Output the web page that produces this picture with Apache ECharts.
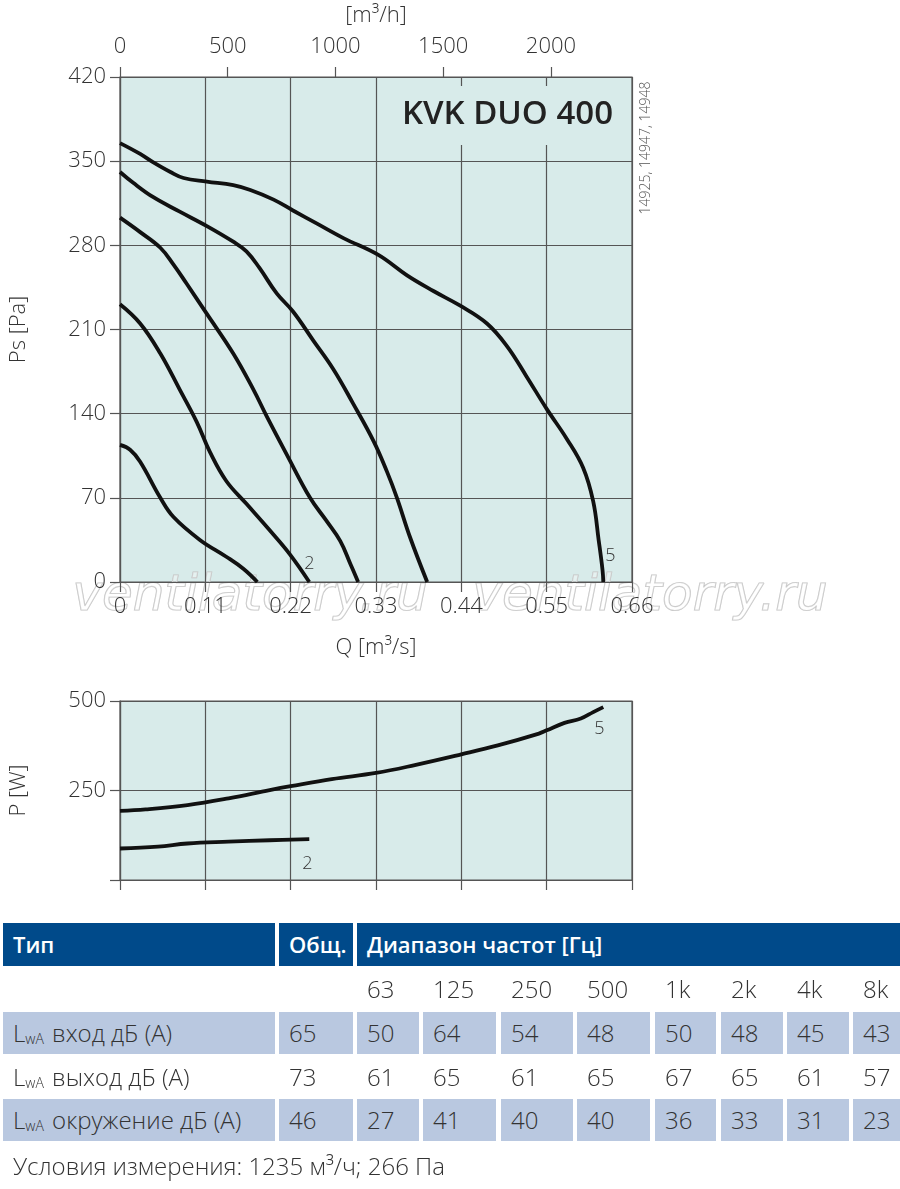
<!DOCTYPE html>
<html>
<head>
<meta charset="utf-8">
<script src="https://cdn.jsdelivr.net/npm/echarts@6/dist/echarts.min.js"></script>
<style>
  html, body { margin: 0; padding: 0; background: #fff; }
  #chart { position: absolute; left: 0; top: 0; width: 900px; height: 910px; }
  #tbl { position: absolute; left: 0; top: 0; width: 900px; height: 1189px; pointer-events: none;
         font-family: 'Open Sans', 'DejaVu Sans', sans-serif; color: #333; }
  .c { position: absolute; box-sizing: border-box; font-size: 24px; font-weight: 300; line-height: 42px; padding-left: 10px; white-space: nowrap; }
  .h { background: #004a8a; color: #fff; font-weight: 600; font-size: 22px; height: 43px; line-height: 43px; }
  .s { background: #b9c8e0; height: 42px; }
  sub { font-size: 14px; vertical-align: -2px; margin-right: 2px; }
</style>
</head>
<body>
<div id="chart"></div>
<div id="tbl"></div>
<script>
// ---------- data ----------
const psTicks = [0, 70, 140, 210, 280, 350, 420];
const qTickLabels = ['0', '0.11', '0.22', '0.33', '0.44', '0.55', '0.66'];
const m3hTicks = [0, 500, 1000, 1500, 2000];

// Ps curves [Q m3/s, Ps Pa]
const curve1 = [[0,114],[0.013,110],[0.026,100],[0.052,70],[0.069,54],[0.103,35],[0.137,21],[0.159,11],[0.177,0]];
const curve2 = [[0,231],[0.026,215],[0.052,190],[0.077,160],[0.099,133],[0.116,108],[0.137,84],[0.163,65],[0.193,43],[0.219,23],[0.244,0]];
const curve3 = [[0,303],[0.026,291],[0.052,278],[0.069,264],[0.086,248],[0.112,223],[0.146,190],[0.172,160],[0.189,138],[0.215,106],[0.245,70],[0.266,51],[0.284,34],[0.297,15],[0.307,0]];
const curve4 = [[0,341],[0.017,332],[0.043,320],[0.077,308],[0.112,296],[0.146,283],[0.163,275],[0.180,261],[0.202,240],[0.223,225],[0.249,201],[0.275,177],[0.300,149],[0.327,117],[0.344,92],[0.357,70],[0.374,37],[0.396,0]];
const curve5 = [[0,365],[0.026,356],[0.043,349],[0.065,341],[0.082,336],[0.112,333],[0.146,330],[0.168,326],[0.198,318],[0.223,309],[0.254,298],[0.288,286],[0.333,272],[0.370,255],[0.404,242],[0.438,230],[0.473,215],[0.499,196],[0.524,171],[0.550,144],[0.576,119],[0.597,95],[0.610,67],[0.617,35],[0.622,10],[0.623,0]];

// power curves [Q m3/s, P W]
const power2 = [[0,88],[0.049,93],[0.087,102],[0.140,107],[0.193,111],[0.244,114]];
const power5 = [[0,193],[0.033,197],[0.087,209],[0.140,228],[0.193,251],[0.220,262],[0.273,282],[0.330,299],[0.380,321],[0.440,351],[0.487,376],[0.540,409],[0.550,418],[0.573,439],[0.594,451],[0.610,469],[0.623,483]];
const pTicks = [0, 250, 500];

// table
const tableTitle = ['Тип', 'Общ.', 'Диапазон частот [Гц]'];
const freqBands = ['63', '125', '250', '500', '1k', '2k', '4k', '8k'];
const rowNames = ['вход дБ (А)', 'выход дБ (А)', 'окружение дБ (А)'];
const rowTotal = [65, 73, 46];
const rowInlet = [50, 64, 54, 48, 50, 48, 45, 43];
const rowOutlet = [61, 65, 61, 65, 67, 65, 61, 57];
const rowSurround = [27, 41, 40, 40, 36, 33, 31, 23];
const footnote = 'Условия измерения: 1235 м³/ч; 266 Па';

// ---------- chart ----------
const FONT = "'Open Sans', 'DejaVu Sans', sans-serif";
const TXT = '#333';
const GRIDC = '#555';
const chart = echarts.init(document.getElementById('chart'), null, { renderer: 'canvas' });

function lineSeries(data, xi, yi, label, off) {
  return {
    type: 'line', xAxisIndex: xi, yAxisIndex: yi, data: data, smooth: 0.4,
    showSymbol: false, symbol: 'none', silent: true, animation: false,
    lineStyle: { color: '#111', width: 3.8 },
    endLabel: label ? { show: true, formatter: label, color: TXT, fontSize: 18, fontFamily: FONT, fontWeight: 300, offset: off } : { show: false },
    z: 5
  };
}

const axisLineStyle = { show: true, lineStyle: { color: GRIDC, width: 1.2 } };
const tickStyle = { show: true, length: 10, inside: false, lineStyle: { color: GRIDC, width: 1.2 } };
const splitStyle = { show: true, lineStyle: { color: GRIDC, width: 1.2 } };
const lbl = { color: TXT, fontSize: 22, fontFamily: FONT, fontWeight: 300 };
const nameStyle = { color: TXT, fontSize: 22, fontFamily: FONT, fontWeight: 300 };

const option = {
  animation: false,
  grid: [
    { left: 120, top: 70, width: 512, height: 512, show: true, backgroundColor: '#d8ebea', borderColor: GRIDC, borderWidth: 1.2 },
    { left: 120, top: 701, width: 512, height: 179, show: true, backgroundColor: '#d8ebea', borderColor: GRIDC, borderWidth: 1.2 }
  ],
  xAxis: [
    { type: 'value', gridIndex: 0, min: 0, max: 0.66, interval: 0.11, position: 'bottom',
      axisLine: axisLineStyle, axisTick: tickStyle, splitLine: splitStyle,
      axisLabel: Object.assign({}, lbl, { margin: 14, formatter: (v) => qTickLabels[Math.round(v / 0.11)] }),
      name: 'Q [m³/s]', nameLocation: 'middle', nameGap: 55, nameTextStyle: nameStyle },
    { type: 'value', gridIndex: 0, min: 0, max: 2376, position: 'top',
      axisLine: { show: false }, splitLine: { show: false },
      axisTick: Object.assign({}, tickStyle, { customValues: m3hTicks }),
      axisLabel: Object.assign({}, lbl, { margin: 19, customValues: m3hTicks, formatter: (v) => String(v) }),
      name: '[m³/h]', nameLocation: 'middle', nameGap: 50, nameTextStyle: nameStyle },
    { type: 'value', gridIndex: 1, min: 0, max: 0.66, interval: 0.11, position: 'bottom',
      axisLine: axisLineStyle, axisTick: tickStyle, splitLine: splitStyle, axisLabel: { show: false } }
  ],
  yAxis: [
    { type: 'value', gridIndex: 0, min: 0, max: 420, interval: 70,
      axisLine: axisLineStyle, axisTick: tickStyle, splitLine: splitStyle,
      axisLabel: Object.assign({}, lbl, { margin: 14 }),
      name: 'Ps [Pa]', nameLocation: 'middle', nameRotate: 90, nameGap: 90, nameTextStyle: nameStyle },
    { type: 'value', gridIndex: 1, min: 0, max: 500, interval: 250,
      axisLine: axisLineStyle, axisTick: tickStyle, splitLine: splitStyle,
      axisLabel: Object.assign({}, lbl, { margin: 14, formatter: (v) => v === 0 ? '' : String(v) }),
      name: 'P [W]', nameLocation: 'middle', nameRotate: 90, nameGap: 90, nameTextStyle: nameStyle }
  ],
  series: [
    lineSeries(curve1, 0, 0),
    lineSeries(curve2, 0, 0, '2', [-13, -18]),
    lineSeries(curve3, 0, 0),
    lineSeries(curve4, 0, 0),
    lineSeries(curve5, 0, 0, '5', [-6, -26]),
    lineSeries(power2, 2, 1, '2', [-15, 25]),
    lineSeries(power5, 2, 1, '5', [-17, 22])
  ],
  graphic: [
    { type: 'rect', shape: { x: 388, y: 86, width: 240, height: 59 }, style: { fill: '#d8ebea' }, z: 3, silent: true },
    { type: 'text', x: 613, y: 115, z: 4, silent: true,
      style: { text: 'KVK DUO 400', fill: '#222', font: "600 33px 'Open Sans', 'DejaVu Sans', sans-serif", align: 'right', verticalAlign: 'middle' } },
    { type: 'text', x: 646, y: 148, rotation: Math.PI / 2, z: 4, silent: true,
      style: { text: '14925, 14947, 14948', fill: '#555', font: "300 14px 'Open Sans', 'DejaVu Sans', sans-serif", align: 'center', verticalAlign: 'middle' } },
    { type: 'text', x: 250, y: 597, z: 0, silent: true,
      style: { text: 'ventilatorry.ru', fill: 'rgba(255,255,255,0.35)', stroke: '#c4c4c4', lineWidth: 1.2,
               font: "italic 50px 'DejaVu Sans', sans-serif", align: 'center', verticalAlign: 'middle' } },
    { type: 'text', x: 650, y: 597, z: 0, silent: true,
      style: { text: 'ventilatorry.ru', fill: 'rgba(255,255,255,0.35)', stroke: '#c4c4c4', lineWidth: 1.2,
               font: "italic 50px 'DejaVu Sans', sans-serif", align: 'center', verticalAlign: 'middle' } }
  ]
};
chart.setOption(option);

// ---------- table (HTML) ----------
const colX = [3, 279, 357, 423, 501, 577, 655, 721, 787, 853];
const colR = [275, 353, 419, 496, 573, 650, 716, 783, 849, 900];
const tbl = document.getElementById('tbl');
function cell(x, y, w, h, html, cls) {
  const d = document.createElement('div');
  d.className = 'c ' + (cls || '');
  d.style.left = x + 'px'; d.style.top = y + 'px'; d.style.width = w + 'px'; d.style.height = h + 'px';
  d.style.lineHeight = h + 'px';
  d.innerHTML = html;
  tbl.appendChild(d);
}
cell(colX[0], 923, colR[0] - colX[0], 43, tableTitle[0], 'h');
cell(colX[1], 923, colR[1] - colX[1], 43, tableTitle[1], 'h');
cell(colX[2], 923, 900 - colX[2], 43, tableTitle[2], 'h');
freqBands.forEach((f, i) => cell(colX[i + 2], 969, colR[i + 2] - colX[i + 2], 40, f, ''));
const rowsY = [1012, 1056, 1099];
const rowVals = [rowInlet, rowOutlet, rowSurround];
rowNames.forEach((n, r) => {
  const shaded = r !== 1 ? 's' : '';
  cell(colX[0], rowsY[r], colR[0] - colX[0], 42, 'L<sub>wA</sub> ' + n, shaded);
  cell(colX[1], rowsY[r], colR[1] - colX[1], 42, String(rowTotal[r]), shaded);
  rowVals[r].forEach((v, i) => cell(colX[i + 2], rowsY[r], colR[i + 2] - colX[i + 2], 42, String(v), shaded));
});
cell(3, 1146, 600, 40, footnote, '');
</script>
</body>
</html>
